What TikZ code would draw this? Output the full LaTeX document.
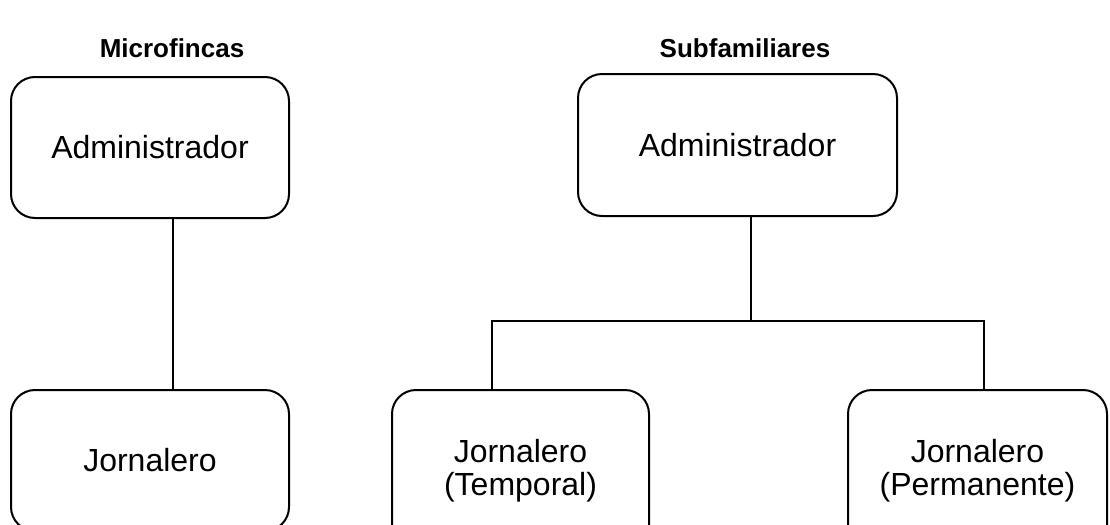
\documentclass[tikz,border=0pt]{standalone}
\usepackage{fontspec}
\setmainfont{Liberation Sans}
\usetikzlibrary{positioning, calc}

\begin{document}
\begin{tikzpicture}[x=0.5pt, y=-0.5pt,
    font=\fontsize{16}{16.5}\selectfont,
    box/.style={draw, line width=1pt, rounded corners=12pt, align=center, minimum height=70.5pt},
    title/.style={font=\fontsize{13}{15}\selectfont\bfseries},
    link/.style={line width=1pt},
    ]
    \useasboundingbox (0,0) rectangle (1110,525);

    % Titles
    \node[title] (tmicro) at (172,48) {Microfincas};
    \node[title] (tsub) at (745,48) {Subfamiliares};

    % Microfincas
    \node[box, minimum width=139pt] (madm) at (150,147.5) {Administrador};
    \node[box, minimum width=139pt] (mjor) at (150,460.5) {Jornalero};

    % Subfamiliares
    \node[box, minimum width=159.5pt, minimum height=71pt] (sadm) at (737.5,145) {Administrador};
    \node[box, minimum width=128.5pt, minimum height=80.5pt] (stemp) at (520.5,470.5) {Jornalero\\(Temporal)};
    \node[box, minimum width=129.5pt, minimum height=80.5pt] (sperm) at (977.5,470.5) {Jornalero\\(Permanente)};

    % Connectors
    \draw[link] ([xshift=11.5pt]madm.south) -- ([xshift=11.5pt]madm.south |- mjor.north);

    \coordinate (busL) at (492,321);
    \coordinate (busR) at (984,321);
    \draw[link] ([xshift=6.75pt]sadm.south) -- ([xshift=6.75pt]sadm.south |- busL);
    \draw[link] (busL |- stemp.north) -- (busL) -- (busR) -- (busR |- sperm.north);
\end{tikzpicture}
\end{document}
